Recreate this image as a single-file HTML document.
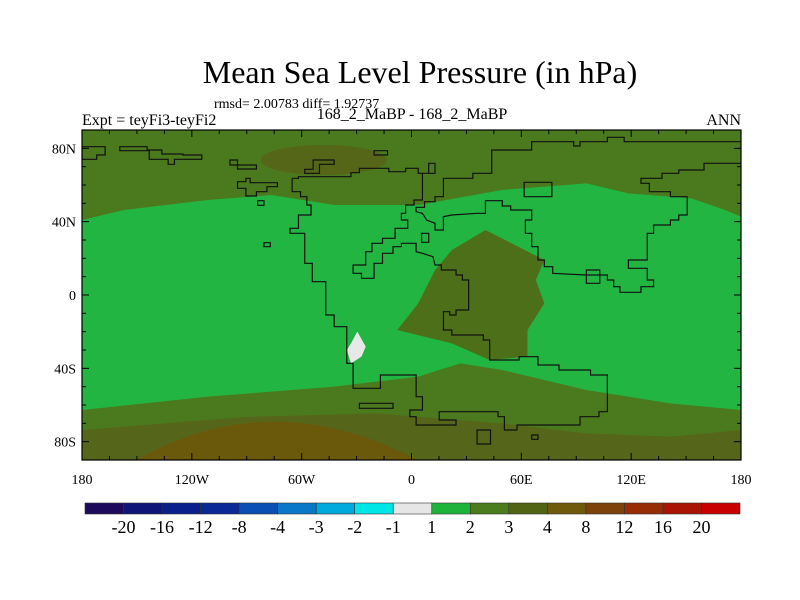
<!DOCTYPE html>
<html><head><meta charset="utf-8"><style>
body{margin:0;background:#fff;width:800px;height:600px;overflow:hidden;font-family:"Liberation Serif",serif}
svg{position:absolute;left:0;top:0}
</style></head><body>
<svg width="800" height="600">
<text x="420" y="83" text-anchor="middle" font-size="32" font-family="Liberation Serif">Mean Sea Level Pressure (in hPa)</text>
<text x="214" y="108" font-size="14">rmsd= 2.00783 diff= 1.92737</text>
<text x="82" y="125" font-size="16">Expt = teyFi3-teyFi2</text>
<text x="412" y="119" text-anchor="middle" font-size="16">168_2_MaBP - 168_2_MaBP</text>
<text x="741" y="125" text-anchor="end" font-size="16">ANN</text>
<svg x="82" y="130" width="659" height="330" viewBox="0 0 1568 990" preserveAspectRatio="none">
<rect width="1568" height="990" fill="#22b542"/>
<polygon fill="#4b7a1e" points="0,0 1568,0 1568,260 1530,240 1450,205 1300,190 1200,160 1000,180 800,225 600,225 450,195 300,210 100,240 0,270"/>
<ellipse cx="575" cy="90" rx="150" ry="45" fill="#556619"/>
<polygon fill="#4e6f1a" points="960,300 1100,390 1080,450 1100,520 1060,600 1060,680 970,690 880,640 750,600 800,520 840,420 880,360"/>
<polygon fill="#4b7a1e" points="0,840 300,800 600,770 800,740 900,700 1000,720 1200,780 1400,820 1568,840 1568,990 0,990"/>
<polygon fill="#55661a" points="0,900 400,860 700,850 1000,880 1200,910 1400,920 1568,900 1568,990 0,990"/>
<path d="M130,990 Q450,760 800,990 Z" fill="#6b590b"/>
<polygon fill="#e8e8e8" points="655,605 675,650 665,680 640,700 630,660 640,640"/>
<g fill="none" stroke="#111" stroke-width="1.2">
<polyline vector-effect="non-scaling-stroke" points="975,110 975,60 1070,60 1070,35 1170,35 1170,48 1185,48 1185,35 1250,35 1250,22 1290,22 1290,35 1568,35"/>
<polyline vector-effect="non-scaling-stroke" points="1568,100 1480,100 1480,120 1420,120 1420,130 1380,130 1380,145 1330,145 1330,160 1350,160 1350,185 1400,185 1400,200 1440,200 1440,255 1420,255 1420,270 1400,270 1400,285 1360,285 1360,310 1345,310 1345,390 1300,390 1300,415 1345,415 1345,450 1360,450 1360,470 1330,470 1330,487 1280,487 1280,470 1265,470 1265,450 1250,450 1250,435 1200,435 1120,430 1120,410 1100,410 1100,390 1085,390 1085,350 1070,350 1070,310 1055,310 1055,270 1070,270 1070,240 1020,240 1020,228 1000,228 1000,212 960,212 960,250 940,250 880,255 860,260 860,300 840,300 840,280 820,270 810,250 795,245 795,232 815,232 815,215 840,215 840,200 860,200 860,145 930,145 930,130 975,130 975,110"/>
<polyline vector-effect="non-scaling-stroke" points="500,145 515,145 515,140 640,140 640,128 660,128 660,115 730,115 730,125 770,125 770,115 800,115 800,130 825,130 825,100 840,100 840,130 810,130 810,210 790,210 790,225 770,225 770,250 760,250 760,270 775,270 775,295 745,295 745,325 715,325 715,340 690,340 690,365 675,365 675,405 645,405 645,430 665,430 665,445 695,445 695,400 715,400 715,370 740,370 740,350 760,350 760,340 795,340 795,365 810,370 835,380 840,405 855,405 855,420 890,420 890,435 905,435 905,450 920,450 920,540 890,540 890,555 875,555 875,545 860,545 860,600 880,600 880,615 955,615 955,630 970,630 970,690 1040,690 1040,680 1085,680 1085,705 1135,705 1135,720 1210,720 1210,735 1250,735 1250,845 1230,845 1230,860 1185,860 1185,885 1035,885 1035,900 1005,900 1005,860 990,860 990,845 850,845 850,870 890,870 890,885 795,885 795,860 780,860 780,840 810,840 810,800 795,800 795,735 710,735 710,775 645,775 645,700 630,700 630,590 600,590 600,555 580,555 580,455 548,455 548,400 530,400 530,310 495,310 495,295 515,295 515,255 545,255 545,225 535,225 535,200 520,200 520,185 500,185 500,145"/>
<polygon vector-effect="non-scaling-stroke" points="0,50 55,50 55,75 35,75 35,88 0,88"/>
<polygon vector-effect="non-scaling-stroke" points="90,50 155,50 155,60 190,60 190,72 240,72 240,75 285,75 285,88 220,88 220,103 205,103 205,88 160,88 160,62 90,62"/>
<polygon vector-effect="non-scaling-stroke" points="352,90 370,90 370,105 415,105 415,117 370,117 370,105 352,105"/>
<polygon vector-effect="non-scaling-stroke" points="370,155 390,155 390,145 400,145 400,158 465,158 465,170 440,170 440,185 415,185 415,198 390,198 390,175 370,175"/>
<polygon vector-effect="non-scaling-stroke" points="530,118 550,118 550,90 600,90 600,103 565,103 565,130 530,130"/>
<polygon vector-effect="non-scaling-stroke" points="695,62 727,62 727,75 695,75"/>
<polygon vector-effect="non-scaling-stroke" points="1052,157 1118,157 1118,200 1052,200"/>
<polygon vector-effect="non-scaling-stroke" points="1200,420 1232,420 1232,460 1200,460"/>
<polygon vector-effect="non-scaling-stroke" points="418,212 433,212 433,226 418,226"/>
<polygon vector-effect="non-scaling-stroke" points="433,338 448,338 448,350 433,350"/>
<polygon vector-effect="non-scaling-stroke" points="808,310 825,310 825,337 808,337"/>
<polygon vector-effect="non-scaling-stroke" points="660,820 740,820 740,835 660,835"/>
<polygon vector-effect="non-scaling-stroke" points="940,900 972,900 972,942 940,942"/>
<polygon vector-effect="non-scaling-stroke" points="1070,915 1085,915 1085,928 1070,928"/>
</g>
</svg>
<rect x="82" y="130" width="659" height="330" fill="none" stroke="#000" stroke-width="1.2"/>
<g id="ticks"></g>
<g id="cbar"></g>
</svg>
<script>
const lonTicks=[-180,-120,-60,0,60,120,180];
const lonLabels=["180","120W","60W","0","60E","120E","180"];
const latTicks=[80,40,0,-40,-80];
const latLabels=["80N","40N","0","40S","80S"];
const levels=["-20","-16","-12","-8","-4","-3","-2","-1","1","2","3","4","8","12","16","20"];
const colors=["#1e0a5a","#0f1478","#0a1e8c","#0a2896","#0a50b4","#0a78c8","#00aadc","#00e6e6","#e6e6e6","#1eb43c","#4b7d1e","#506414","#6e5a0a","#7d410a","#962d05","#aa1405","#c80000"];
const NS="http://www.w3.org/2000/svg";
const X0=82,X1=741,Y0=130,Y1=460;
function xs(lon){return X0+(lon+180)/360*(X1-X0);}
function ys(lat){return Y0+(90-lat)/180*(Y1-Y0);}
const tg=document.getElementById('ticks');
function mk(tag,attrs,parent){const e=document.createElementNS(NS,tag);for(const k in attrs)e.setAttribute(k,attrs[k]);parent.appendChild(e);return e;}
for(let lon=-180;lon<=180;lon+=15){
 const x=xs(lon),len=lon%60===0?7:4;
 const t1=mk('line',{x1:x,x2:x,y1:Y1,y2:Y1-len,stroke:'#000'},tg);
 
 
 const t2=mk('line',{x1:x,x2:x,y1:Y0,y2:Y0+len,stroke:'#000'},tg);
 
 
}
for(let lat=-90;lat<=90;lat+=10){
 const y=ys(lat),len=lat%40===0?7:4;
 const t1=mk('line',{x1:X0,x2:X0+len,y1:y,y2:y,stroke:'#000'},tg);
 
 
 const t2=mk('line',{x1:X1,x2:X1-len,y1:y,y2:y,stroke:'#000'},tg);
 
 
}
lonTicks.forEach((lon,i)=>{
 const t=mk('text',{x:xs(lon),y:484,'text-anchor':'middle','font-size':14},tg);
 t.textContent=lonLabels[i];
 
 
});
latTicks.forEach((lat,i)=>{
 const t=mk('text',{x:76,y:ys(lat)+5,'text-anchor':'end','font-size':14},tg);
 t.textContent=latLabels[i];
 
 
});
const cb=document.getElementById('cbar');
const CB0=85,CB1=740,bw=(CB1-CB0)/colors.length;
colors.forEach((c,i)=>{
 const r=mk('rect',{x:CB0+i*bw,y:503,width:bw,height:11,fill:c,stroke:'#333','stroke-width':0.6},cb);
 
 
});
levels.forEach((l,i)=>{
 const t=mk('text',{x:CB0+(i+1)*bw,y:533,'text-anchor':'middle','font-size':18},cb);
 t.textContent=l;
 
 
});
</script>
</body></html>
